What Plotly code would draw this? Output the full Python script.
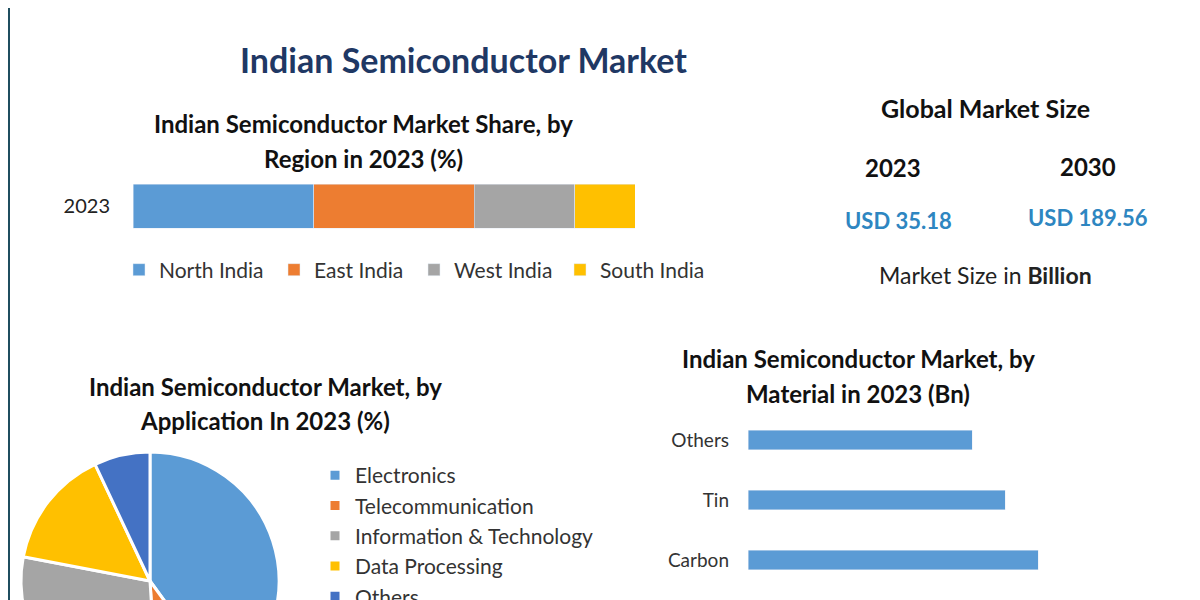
import plotly.graph_objects as go

# data
regions = ['North India', 'East India', 'West India', 'South India']
region_share = [36, 32, 20, 12]
region_colors = ['#5b9bd5', '#ed7d31', '#a5a5a5', '#ffc000']

applications = ['Electronics', 'Telecommunication', 'Information & Technology', 'Data Processing', 'Others']
app_share = [40, 9, 29, 15, 7]
app_colors = ['#5b9bd5', '#ed7d31', '#a5a5a5', '#ffc000', '#4472c4']

materials = ['Silicon', 'Carbon', 'Tin', 'Others']
material_bn = [3.3, 2.90, 2.57, 2.24]

H = 720  # taller than the window so the lower part is cut off like the reference
OFF = 8  # page body margin
def py(px):
    return (H - (px - OFF)) / H
def px_(x):
    return (x - OFF) / 1200

FONT = 'Lato'
fig = go.Figure()

# one legend per region so the entries sit where the reference has them
region_legends = ['legend', 'legend3', 'legend4', 'legend5']
region_legend_x = [119, 274, 414, 560]

for name, val, col, lg in zip(regions, region_share, region_colors, region_legends):
    fig.add_trace(go.Bar(name=name, y=['2023'], x=[val], orientation='h', marker_color=col,
                         width=0.8, xaxis='x', yaxis='y', legend=lg))

fig.add_trace(go.Pie(labels=applications, values=app_share, sort=False, direction='clockwise',
                     rotation=0, marker=dict(colors=app_colors, line=dict(color='white', width=3)),
                     textinfo='none', hoverinfo='label+percent', legend='legend2',
                     domain=dict(x=[px_(21), px_(279)], y=[py(710), py(452)])))

fig.add_trace(go.Bar(y=materials, x=material_bn, orientation='h', marker_color='#5b9bd5',
                     width=0.33, xaxis='x2', yaxis='y2', showlegend=False))

leg = dict(orientation='h', y=py(270), xanchor='left', yanchor='middle',
           font=dict(size=21, color='#333'), itemwidth=30)

fig.update_layout(
    width=1200, height=H, margin=dict(l=0, r=0, t=0, b=0),
    paper_bgcolor='white', plot_bgcolor='white', barmode='stack',
    font=dict(family=FONT, color='#333333'),
    xaxis=dict(domain=[px_(133), px_(635)], range=[0, 100], visible=False),
    yaxis=dict(domain=[py(233.5), py(178.5)], range=[-0.5, 0.5], showgrid=False,
               tickfont=dict(size=20, color='#222'), ticklabelstandoff=22, showline=False),
    xaxis2=dict(domain=[px_(748), px_(1160)], range=[0, 4.12], visible=False),
    yaxis2=dict(domain=[py(650), py(410)], range=[-0.5, 3.5], anchor='x2', showgrid=False,
                tickfont=dict(size=19, color='#333'), ticklabelstandoff=18),
    legend2=dict(x=px_(315), y=py(455), xanchor='left', yanchor='top',
                 font=dict(size=21, color='#333')),
    showlegend=True,
)
for lg, lx in zip(region_legends, region_legend_x):
    fig.update_layout({lg: dict(leg, x=px_(lx))})

def text(x, y, s, size, color='#111', bold=True):
    fig.add_annotation(x=px_(x), y=py(y), xref='paper', yref='paper', text=f'<b>{s}</b>' if bold else s,
                       showarrow=False, font=dict(size=size, color=color, family=FONT),
                       xanchor='center', yanchor='middle')

text(463, 60, 'Indian Semiconductor Market', 34, '#1f3864')
text(363, 124, 'Indian Semiconductor Market Share, by', 24)
text(363, 158, 'Region in 2023 (%)', 24)
text(986, 108, 'Global Market Size', 25)
text(893, 167, '2023', 24)
text(1088, 166, '2030', 24)
text(898, 221, 'USD 35.18', 22, '#2e86c1')
text(1088, 218, 'USD 189.56', 22, '#2e86c1')
text(986, 275, 'Market Size in <b>Billion</b>', 23, '#222', bold=False)
text(265, 386, 'Indian Semiconductor Market, by', 24)
text(265, 420, 'Application In 2023 (%)', 24)
text(858, 358, 'Indian Semiconductor Market, by', 24)
text(858, 393, 'Material in 2023 (Bn)', 24)

for x in (9, 1199):
    fig.add_shape(type='line', xref='paper', yref='paper', x0=px_(x), x1=px_(x), y0=0, y1=1,
                  line=dict(color='#1f4e5f', width=2))

fig.write_html('out.html')
